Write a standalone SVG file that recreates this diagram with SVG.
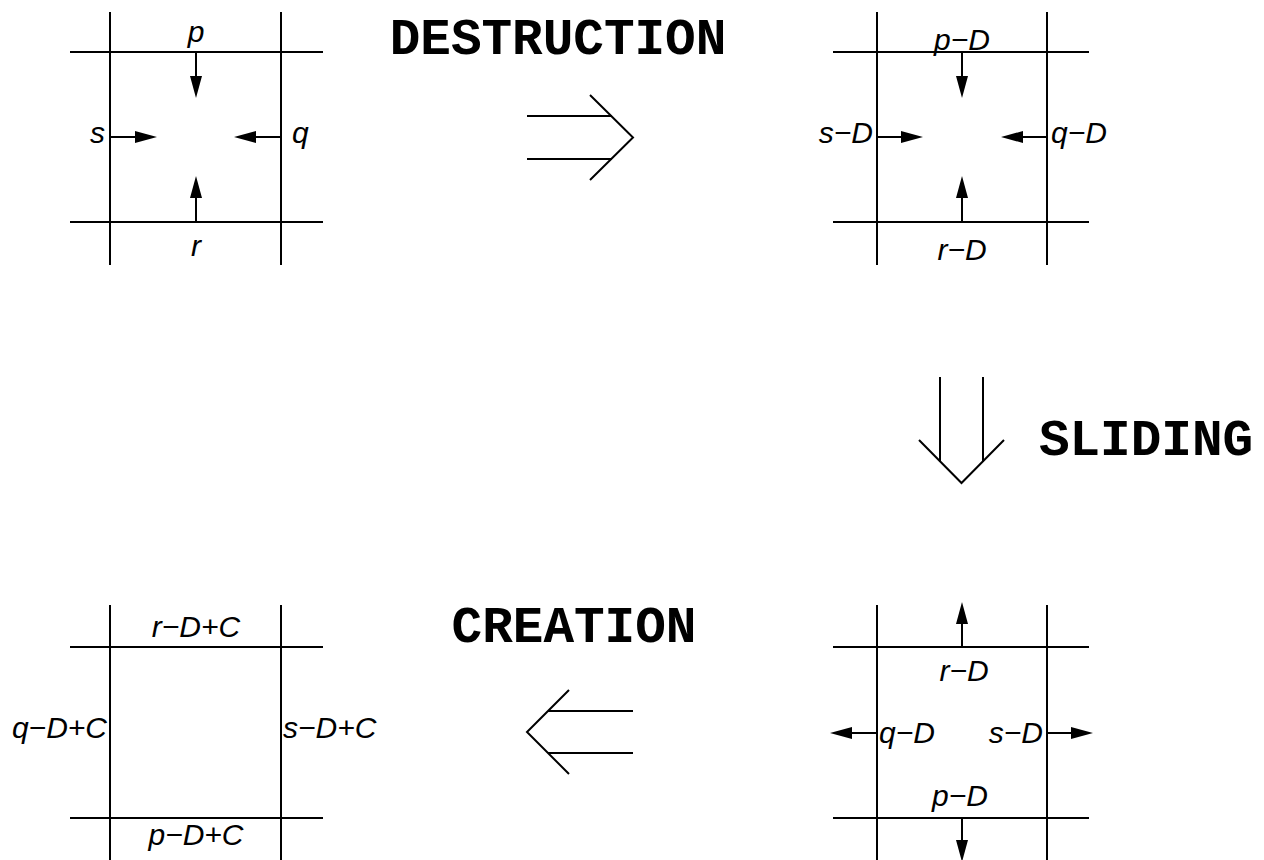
<svg xmlns="http://www.w3.org/2000/svg" width="1264" height="860" viewBox="0 0 1264 860">
<style>
.ln{stroke:#000;stroke-width:2;fill:none}
.ar{stroke:#000;stroke-width:2;fill:none;marker-end:url(#head)}
.lb{font-family:"Liberation Sans",Arial,sans-serif;font-style:italic;font-size:30px;fill:#000}
.tt{font-family:"Courier New","Liberation Mono",monospace;font-weight:bold;font-size:51px;fill:#000}
</style>
<defs>
<marker id="head" viewBox="0 0 22 12" refX="0" refY="6" markerWidth="22" markerHeight="12" markerUnits="userSpaceOnUse" orient="auto">
<path d="M0,0 L22,6 L0,12 z" fill="#000"/>
</marker>
</defs>
<rect width="1264" height="860" fill="#fff"/>
<g id="panel-initial">
<path class="ln" d="M110,12 V265 M281,12 V265 M70,52 H323 M70,222 H323"/>
<path class="ar" d="M196,52 V76"/>
<path class="ar" d="M110,137 H135"/>
<path class="ar" d="M281,137 H256"/>
<path class="ar" d="M196,222 V198"/>
<text class="lb" x="196" y="42" text-anchor="middle">p</text>
<text class="lb" x="105" y="143" text-anchor="end">s</text>
<text class="lb" x="292" y="143">q</text>
<text class="lb" x="196" y="256" text-anchor="middle">r</text>
</g>
<g id="panel-destroyed">
<path class="ln" d="M877,12 V265 M1047,12 V265 M833,52 H1089 M833,222 H1089"/>
<path class="ar" d="M962,52 V76"/>
<path class="ar" d="M877,137 H901"/>
<path class="ar" d="M1047,137 H1023"/>
<path class="ar" d="M962,222 V198"/>
<text class="lb" x="962" y="50" text-anchor="middle">p−D</text>
<text class="lb" x="873" y="143" text-anchor="end">s−D</text>
<text class="lb" x="1051" y="143">q−D</text>
<text class="lb" x="962" y="260" text-anchor="middle">r−D</text>
</g>
<g id="panel-slid">
<path class="ln" d="M877,605 V860 M1047,605 V860 M833,647 H1089 M833,818 H1089"/>
<path class="ar" d="M962,647 V624"/>
<path class="ar" d="M962,818 V840"/>
<path class="ar" d="M877,733 H852"/>
<path class="ar" d="M1047,733 H1071"/>
<text class="lb" x="964" y="681" text-anchor="middle">r−D</text>
<text class="lb" x="879" y="743">q−D</text>
<text class="lb" x="1043" y="743" text-anchor="end">s−D</text>
<text class="lb" x="960" y="806" text-anchor="middle">p−D</text>
</g>
<g id="panel-created">
<path class="ln" d="M110,605 V860 M281,605 V860 M70,647 H323 M70,818 H323"/>
<text class="lb" x="196" y="637" text-anchor="middle">r−D+C</text>
<text class="lb" x="107" y="738" text-anchor="end">q−D+C</text>
<text class="lb" x="283" y="738">s−D+C</text>
<text class="lb" x="196" y="845" text-anchor="middle">p−D+C</text>
</g>
<g id="connectors">
<g id="destruction">
<path class="ln" d="M527,116 H612 M527,159 H612 M590,95 L633,137.5 L590,180"/>
<text class="tt" x="558" y="54" text-anchor="middle">DESTRUCTION</text>
</g>
<g id="sliding">
<path class="ln" d="M940,377 V462 M983,377 V462 M919,440 L961.5,483 L1004,440"/>
<text class="tt" x="1146" y="455" text-anchor="middle">SLIDING</text>
</g>
<g id="creation">
<path class="ln" d="M548,711 H633 M548,753 H633 M569,690 L527,732 L569,774"/>
<text class="tt" x="574" y="642" text-anchor="middle">CREATION</text>
</g>
</g>
</svg>
